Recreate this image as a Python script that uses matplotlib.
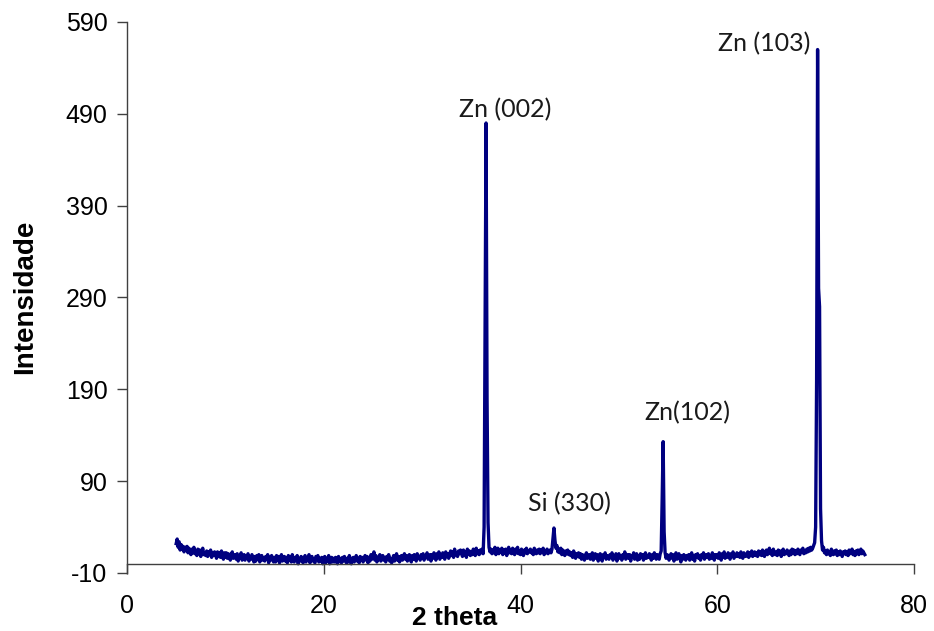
import matplotlib
matplotlib.use("Agg")
import matplotlib.pyplot as plt
import numpy as np

# scan grid (degrees 2 theta)
scan_start = 5.0
scan_step = 0.1

# intensity, one row per degree (x.0 ... x.9)
intensity = [
    22, 27, 18, 24, 15, 21, 16, 19, 13, 18,    # 5
    15, 19, 12, 17, 13, 10, 16, 12, 18, 11,    # 6
    14, 9, 16, 11, 15, 8, 13, 17, 10, 12,      # 7
    9, 14, 8, 13, 10, 15, 7, 12, 9, 13,        # 8
    11, 6, 13, 8, 12, 7, 14, 9, 5, 12,         # 9
    7, 12, 6, 11, 8, 4, 10, 13, 6, 9,          # 10
    10, 5, 11, 3, 9, 7, 12, 4, 8, 10,          # 11
    4, 9, 6, 11, 3, 8, 5, 10, 7, 2,            # 12
    8, 3, 9, 5, 10, 2, 7, 9, 4, 6,             # 13
    3, 8, 5, 10, 1, 7, 4, 9, 6, 2,             # 14
    7, 2, 9, 4, 8, 1, 6, 10, 3, 5,             # 15
    8, 3, 6, 1, 9, 4, 7, 2, 10, 5,             # 16
    2, 7, 4, 9, 0, 6, 3, 8, 5, 1,              # 17
    6, 9, 2, 7, 4, 10, 1, 5, 8, 3,             # 18
    4, 1, 8, 5, 9, 2, 6, 3, 7, 0,              # 19
    5, 8, 1, 6, 3, 9, 0, 4, 7, 2,              # 20
    6, 2, 7, 4, 0, 8, 3, 5, 1, 7,              # 21
    3, 8, 5, 1, 6, 2, 9, 4, 0, 6,              # 22
    7, 2, 5, 9, 3, 6, 1, 8, 4, 7,              # 23
    2, 6, 9, 4, 8, 1, 7, 3, 10, 5,             # 24
    8, 13, 4, 9, 2, 7, 5, 10, 3, 6,            # 25
    9, 4, 7, 2, 8, 5, 10, 3, 6, 1,             # 26
    5, 9, 3, 7, 11, 4, 8, 2, 6, 9,             # 27
    4, 8, 11, 5, 9, 3, 7, 10, 6, 2,            # 28
    9, 5, 10, 7, 3, 11, 6, 8, 4, 10,           # 29
    6, 11, 4, 9, 7, 12, 5, 8, 10, 3,           # 30
    10, 6, 12, 8, 4, 11, 7, 13, 5, 9,          # 31
    7, 12, 9, 5, 13, 8, 11, 6, 10, 14,         # 32
    9, 13, 7, 16, 10, 12, 8, 14, 11, 15,       # 33
    12, 8, 15, 10, 13, 7, 16, 11, 14, 9,       # 34
    13, 10, 16, 12, 9, 17, 11, 14, 10, 15,     # 35
    12, 16, 11, 40, 250, 480, 180, 45, 18, 13,  # 36  Zn (002)
    16, 11, 15, 12, 18, 10, 14, 17, 11, 15,    # 37
    13, 17, 10, 15, 12, 16, 9, 14, 18, 12,     # 38
    15, 11, 17, 13, 10, 16, 12, 18, 11, 14,    # 39
    10, 16, 13, 9, 15, 12, 17, 11, 14, 13,     # 40
    16, 12, 14, 10, 17, 13, 11, 15, 12, 16,    # 41
    11, 15, 13, 17, 10, 14, 12, 16, 11, 13,    # 42
    15, 12, 16, 27, 39, 26, 17, 20, 13, 16,    # 43  Si (330)
    12, 17, 10, 15, 13, 9, 14, 11, 15, 10,     # 44
    13, 9, 12, 7, 14, 10, 6, 11, 8, 12,        # 45
    7, 11, 5, 10, 8, 4, 9, 12, 6, 9,           # 46
    10, 5, 9, 12, 4, 8, 11, 6, 10, 3,          # 47
    8, 11, 6, 3, 10, 7, 12, 5, 9, 7,           # 48
    5, 10, 8, 12, 4, 9, 6, 11, 3, 8,           # 49
    11, 6, 9, 4, 10, 7, 13, 5, 8, 10,          # 50
    6, 10, 3, 9, 7, 12, 5, 8, 11, 4,           # 51
    9, 5, 11, 7, 10, 4, 8, 12, 6, 9,           # 52
    7, 11, 8, 4, 10, 6, 12, 9, 5, 10,          # 53
    8, 5, 11, 14, 70, 133, 35, 12, 6, 10,      # 54  Zn(102)
    9, 4, 8, 11, 6, 10, 3, 7, 12, 5,           # 55
    8, 11, 6, 2, 9, 5, 10, 7, 4, 9,            # 56
    6, 10, 4, 8, 12, 5, 9, 3, 10, 7,           # 57
    11, 6, 9, 4, 10, 7, 12, 5, 8, 10,          # 58
    7, 11, 5, 9, 6, 12, 8, 4, 10, 7,           # 59
    10, 6, 12, 8, 4, 11, 7, 13, 6, 9,          # 60
    7, 12, 9, 5, 11, 8, 13, 6, 10, 8,          # 61
    12, 8, 11, 7, 13, 9, 6, 12, 10, 8,         # 62
    10, 13, 7, 12, 9, 14, 8, 11, 13, 9,        # 63
    12, 8, 14, 10, 13, 9, 15, 11, 8, 13,       # 64
    15, 10, 13, 17, 11, 14, 9, 16, 12, 10,     # 65
    13, 9, 15, 11, 14, 8, 12, 16, 10, 13,      # 66
    11, 15, 12, 9, 14, 10, 16, 12, 15, 10,     # 67
    14, 11, 16, 12, 10, 15, 13, 17, 11, 14,    # 68
    12, 16, 13, 17, 14, 18, 15, 17, 20, 23,    # 69
    40, 200, 560, 300, 280, 60, 25, 15, 18, 12,  # 70  Zn (103)
    14, 10, 15, 11, 13, 9, 16, 12, 10, 14,     # 71
    11, 15, 9, 13, 10, 14, 12, 8, 13, 11,      # 72
    14, 10, 13, 9, 15, 11, 12, 16, 10, 13,     # 73
    9, 14, 11, 15, 10, 13, 16, 11, 14, 12,     # 74
    10,                                        # 75
]

two_theta = np.round(scan_start + scan_step * np.arange(len(intensity)), 1)

peak_labels = ["Zn (002)", "Si (330)", "Zn(102)", "Zn (103)"]
label_x = [38.4, 45.0, 57.0, 64.8]
label_y = [495, 66, 165, 566]

x_ticks = [0, 20, 40, 60, 80]
y_ticks = [-10, 90, 190, 290, 390, 490, 590]

plt.rcParams['font.family'] = ['Liberation Sans', 'DejaVu Sans']
plt.rcParams['axes.unicode_minus'] = False

fig = plt.figure(figsize=(9.34, 6.31), dpi=100)
ax = fig.add_axes([127/934, 58/631, 787/934, 551/631])

ax.plot(two_theta, intensity, color='#000080', lw=2.4)

ax.set_xlim(0, 80)
ax.set_ylim(-10, 590)
ax.set_xticks(x_ticks)
ax.set_yticks(y_ticks)

# excel style: category axis crosses at zero
ax.spines['bottom'].set_position(('data', 0))
ax.spines['top'].set_visible(False)
ax.spines['right'].set_visible(False)
for s in ['left', 'bottom']:
    ax.spines[s].set_color('#404040')
    ax.spines[s].set_linewidth(1.0)

ax.tick_params(axis='both', direction='out', length=7, width=1.0,
               color='#404040', labelsize=18)
ax.tick_params(axis='x', pad=15)
ax.tick_params(axis='y', pad=7)

for t, x, y in zip(peak_labels, label_x, label_y):
    ax.text(x, y, t, ha='center', va='center', fontsize=18,
            family=['Lato', 'DejaVu Sans'], color='#1a1a1a')

fig.text(455/934, 1 - 618/631, '2 theta', ha='center', va='center',
         fontsize=19, fontweight='bold')
fig.text(25/934, 1 - 297/631, 'Intensidade', ha='center', va='center',
         rotation=90, fontsize=20, fontweight='bold')

fig.savefig('out.png', dpi=100)
